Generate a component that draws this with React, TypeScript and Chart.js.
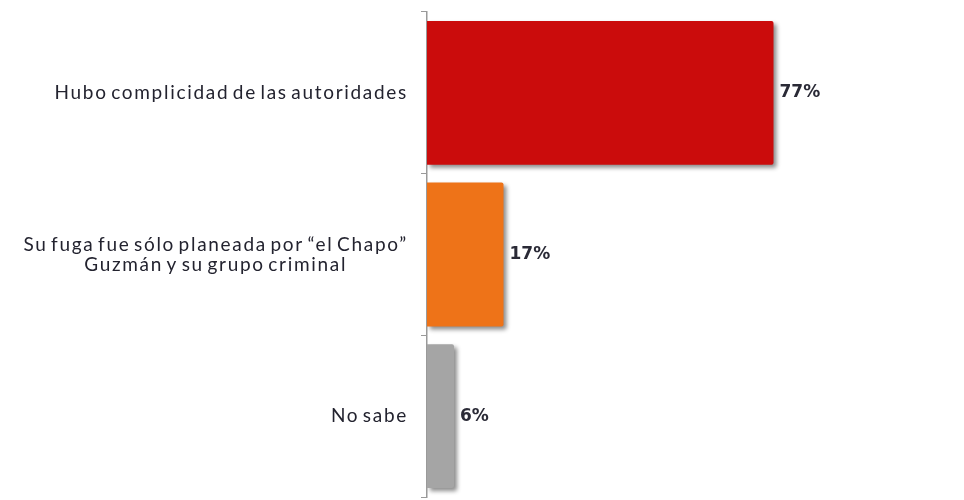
import React, { useEffect, useRef } from "react";
import { Chart, registerables } from "chart.js";

Chart.register(...registerables);

const categories: string[][] = [
  ["Hubo complicidad de las autoridades"],
  ["Su fuga fue sólo planeada por “el Chapo”", "Guzmán y su grupo criminal"],
  ["No sabe"],
];
const values: number[] = [77, 17, 6];
const valueLabels: string[] = ["77%", "17%", "6%"];
const barColors: string[] = ["#CB0C0C", "#EE7318", "#A5A5A5"];

const FONT = "Lato, 'DejaVu Sans', sans-serif";

const shadowPlugin = {
  id: "barShadow",
  beforeDatasetsDraw(chart: any) {
    const ctx = chart.ctx;
    ctx.save();
    ctx.shadowColor = "rgba(0,0,0,0.45)";
    ctx.shadowBlur = 4;
    ctx.shadowOffsetX = 3;
    ctx.shadowOffsetY = 3;
  },
  afterDatasetsDraw(chart: any) {
    chart.ctx.restore();
  },
};

const labelPlugin = {
  id: "customLabels",
  afterDraw(chart: any) {
    const ctx = chart.ctx;
    const yScale = chart.scales.y;
    const meta = chart.getDatasetMeta(0);
    ctx.save();
    // category labels
    ctx.font = `19px ${FONT}`;
    (ctx as any).letterSpacing = "1.7px";
    (ctx as any).wordSpacing = "-3px";
    ctx.fillStyle = "#23232f";
    ctx.textBaseline = "middle";
    ctx.textAlign = "center";
    const lineH = 20;
    categories.forEach((lines, i) => {
      const yc = yScale.getPixelForValue(i);
      const maxW = Math.max(...lines.map((l) => ctx.measureText(l).width));
      const cx = chart.chartArea.left - 19 - maxW / 2;
      lines.forEach((l, j) => {
        const y = yc + (j - (lines.length - 1) / 2) * lineH;
        ctx.fillText(l, cx, y);
      });
    });
    // value labels
    ctx.font = `bold 17px 'DejaVu Sans', sans-serif`;
    (ctx as any).letterSpacing = "0px";
    (ctx as any).wordSpacing = "0px";
    ctx.textAlign = "left";
    ctx.fillStyle = "#2a2a36";
    meta.data.forEach((bar: any, i: number) => {
      ctx.fillText(valueLabels[i], bar.x + 6, bar.y);
    });
    ctx.restore();
  },
};

export default function App() {
  const canvasRef = useRef<HTMLCanvasElement | null>(null);

  useEffect(() => {
    if (!canvasRef.current) return;
    const chart = new Chart(canvasRef.current, {
      type: "bar",
      data: {
        labels: categories.map((c) => c.join(" ")),
        datasets: [
          {
            data: values,
            backgroundColor: barColors,
            borderWidth: 0,
            borderRadius: 2,
            barPercentage: 0.89,
            categoryPercentage: 1,
          },
        ],
      },
      options: {
        indexAxis: "y",
        animation: false,
        responsive: false,
        maintainAspectRatio: false,
        layout: { padding: { top: 12, bottom: 3, right: 87, left: 0 } },
        plugins: {
          legend: { display: false },
          tooltip: { enabled: false },
        },
        scales: {
          x: {
            display: false,
            min: 0,
            max: 100,
          },
          y: {
            ticks: { display: false },
            grid: {
              drawOnChartArea: false,
              drawTicks: true,
              tickLength: 6,
              color: "#9a9a9a",
            },
            border: { display: true, color: "#9a9a9a", width: 1.5 },
            afterFit(scale: any) {
              scale.width = 427;
            },
          },
        },
      },
      plugins: [shadowPlugin, labelPlugin],
    });
    return () => chart.destroy();
  }, []);

  return (
    <div style={{ position: "absolute", left: 0, top: 0, width: 964, height: 500, background: "#ffffff" }}>
      <canvas ref={canvasRef} width={964} height={500} style={{ width: 964, height: 500 }} />
    </div>
  );
}
